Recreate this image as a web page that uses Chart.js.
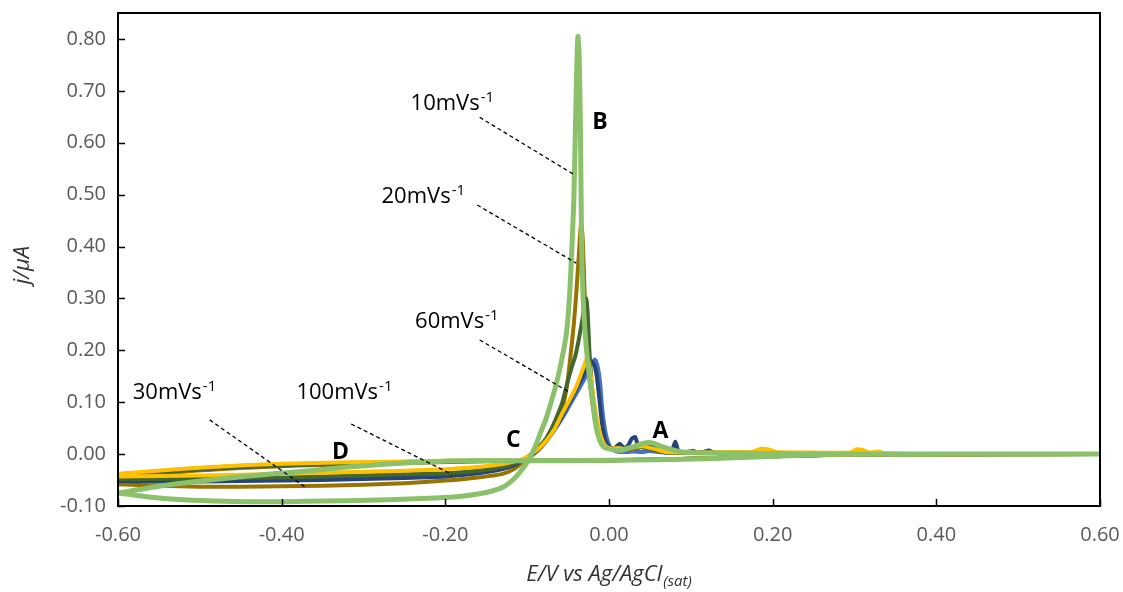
<!DOCTYPE html>
<html>
<head>
<meta charset="utf-8">
<title>Voltamperometria</title>
<script src="https://cdn.jsdelivr.net/npm/chart.js@4.4.0/dist/chart.umd.min.js"></script>
<style>
  html, body { margin: 0; padding: 0; background: #fff; }
</style>
</head>
<body>
<canvas id="myChart" width="1123" height="592"></canvas>
<script>
// ejes
const xTicks = [-0.6, -0.4, -0.2, 0, 0.2, 0.4, 0.6];
const yTicks = [-0.1, 0, 0.1, 0.2, 0.3, 0.4, 0.5, 0.6, 0.7, 0.8];

// curvas [E, j] : barrido directo -0.6 -> 0.6 y retorno
const cvGreen = [
  [-0.6,-0.075],[-0.56,-0.083],[-0.52,-0.088],[-0.47,-0.091],[-0.42,-0.092],[-0.37,-0.091],[-0.32,-0.09],
  [-0.27,-0.088],[-0.22,-0.085],[-0.18,-0.081],[-0.15,-0.074],[-0.13,-0.064],[-0.115,-0.046],[-0.105,-0.027],
  [-0.097,-0.008],[-0.09,0.015],[-0.084,0.04],[-0.077,0.068],[-0.07,0.104],[-0.064,0.138],[-0.058,0.18],
  [-0.052,0.233],[-0.048,0.31],[-0.045,0.41],[-0.043,0.49],[-0.041,0.63],[-0.0395,0.74],[-0.038,0.805],
  [-0.0365,0.77],[-0.035,0.64],[-0.034,0.48],[-0.033,0.36],[-0.031,0.28],[-0.028,0.21],[-0.024,0.15],
  [-0.02,0.104],[-0.017,0.065],[-0.014,0.04],[-0.01,0.022],[-0.006,0.013],[0.0,0.01],[0.008,0.008],
  [0.015,0.007],[0.022,0.011],[0.03,0.014],[0.038,0.019],[0.046,0.022],[0.054,0.021],[0.062,0.016],
  [0.07,0.012],[0.078,0.008],[0.086,0.005],[0.1,0.003],[0.13,0.002],[0.2,0.001],[0.3,0.0],[0.45,0.0],[0.6,0.0],
  [0.45,0.0],[0.3,0.0],[0.26,-0.001],[0.22,-0.003],[0.17,-0.006],[0.12,-0.009],[0.06,-0.011],[0.0,-0.012],
  [-0.06,-0.013],[-0.12,-0.013],[-0.18,-0.013],[-0.22,-0.015],[-0.27,-0.019],[-0.32,-0.025],[-0.38,-0.034],
  [-0.44,-0.042],[-0.5,-0.052],[-0.55,-0.062],[-0.6,-0.075]
];

const cvBrown = [
  [-0.6,-0.058],[-0.55,-0.061],[-0.5,-0.063],[-0.45,-0.063],[-0.4,-0.062],[-0.35,-0.061],[-0.3,-0.059],
  [-0.25,-0.056],[-0.2,-0.051],[-0.16,-0.045],[-0.13,-0.038],[-0.115,-0.028],[-0.105,-0.015],[-0.095,-0.004],
  [-0.085,0.01],[-0.076,0.028],[-0.069,0.045],[-0.062,0.07],[-0.056,0.095],[-0.051,0.135],[-0.047,0.19],
  [-0.043,0.25],[-0.04,0.31],[-0.037,0.38],[-0.035,0.43],[-0.034,0.445],[-0.032,0.41],[-0.03,0.32],
  [-0.027,0.22],[-0.024,0.15],[-0.02,0.095],[-0.016,0.055],[-0.012,0.03],[-0.007,0.016],[-0.002,0.012],
  [0.005,0.01],[0.012,0.008],[0.02,0.012],[0.03,0.01],[0.04,0.014],[0.05,0.012],[0.06,0.006],[0.07,0.004],
  [0.09,0.003],[0.12,0.003],[0.16,0.002],[0.22,0.002],[0.3,0.001],[0.45,0.0],[0.6,0.0],
  [0.45,0.0],[0.3,-0.001],[0.25,-0.002],[0.2,-0.004],[0.14,-0.007],[0.08,-0.01],[0.0,-0.012],[-0.08,-0.013],
  [-0.15,-0.014],[-0.22,-0.016],[-0.3,-0.019],[-0.38,-0.022],[-0.45,-0.027],[-0.52,-0.034],[-0.6,-0.046]
];

const cvDarkGreen = [
  [-0.6,-0.049],[-0.55,-0.048],[-0.5,-0.047],[-0.45,-0.046],[-0.4,-0.045],[-0.35,-0.043],[-0.3,-0.041],
  [-0.25,-0.039],[-0.2,-0.037],[-0.16,-0.032],[-0.13,-0.025],[-0.115,-0.018],[-0.105,-0.011],[-0.095,0.0],
  [-0.085,0.015],[-0.077,0.03],[-0.07,0.05],[-0.063,0.075],[-0.057,0.1],[-0.051,0.137],[-0.046,0.165],
  [-0.041,0.19],[-0.037,0.22],[-0.033,0.255],[-0.03,0.285],[-0.028,0.3],[-0.026,0.27],[-0.024,0.2],
  [-0.021,0.13],[-0.018,0.08],[-0.014,0.045],[-0.01,0.025],[-0.005,0.015],[0.0,0.012],[0.01,0.01],
  [0.02,0.012],[0.03,0.012],[0.04,0.013],[0.05,0.01],[0.06,0.006],[0.07,0.003],[0.09,0.002],[0.12,0.002],
  [0.2,0.001],[0.3,0.0],[0.6,0.0],
  [0.3,-0.001],[0.25,-0.002],[0.2,-0.004],[0.14,-0.007],[0.08,-0.01],[0.0,-0.012],[-0.08,-0.013],
  [-0.15,-0.013],[-0.22,-0.015],[-0.3,-0.018],[-0.38,-0.021],[-0.45,-0.025],[-0.52,-0.031],[-0.6,-0.044]
];

const cvGold = [
  [-0.6,-0.043],[-0.55,-0.042],[-0.5,-0.041],[-0.45,-0.04],[-0.4,-0.038],[-0.35,-0.036],[-0.3,-0.034],
  [-0.25,-0.032],[-0.2,-0.029],[-0.16,-0.025],[-0.13,-0.019],[-0.115,-0.014],[-0.105,-0.009],[-0.095,0.0],
  [-0.085,0.012],[-0.076,0.027],[-0.066,0.05],[-0.057,0.079],[-0.048,0.105],[-0.04,0.13],[-0.034,0.155],
  [-0.03,0.172],[-0.027,0.185],[-0.024,0.17],[-0.021,0.135],[-0.018,0.1],[-0.015,0.07],[-0.011,0.04],
  [-0.007,0.022],[-0.003,0.014],[0.002,0.011],[0.01,0.012],[0.02,0.01],[0.03,0.013],[0.04,0.015],
  [0.05,0.012],[0.06,0.008],[0.07,0.004],[0.09,0.003],[0.12,0.003],[0.15,0.004],[0.175,0.004],[0.185,0.01],
  [0.195,0.009],[0.205,0.004],[0.25,0.003],[0.295,0.003],[0.302,0.009],[0.31,0.008],[0.318,0.003],
  [0.33,0.005],[0.337,0.001],[0.45,0.0],[0.6,0.0],
  [0.3,-0.001],[0.2,-0.004],[0.1,-0.009],[0.0,-0.012],[-0.1,-0.013],[-0.2,-0.013],[-0.28,-0.015],
  [-0.36,-0.017],[-0.44,-0.021],[-0.52,-0.028],[-0.6,-0.038]
];

const cvBlue = [
  [-0.6,-0.046],[-0.5,-0.047],[-0.4,-0.047],[-0.3,-0.045],[-0.2,-0.041],[-0.16,-0.036],[-0.13,-0.028],
  [-0.115,-0.02],[-0.105,-0.012],[-0.095,-0.002],[-0.085,0.01],[-0.075,0.028],[-0.065,0.05],[-0.055,0.075],
  [-0.046,0.1],[-0.038,0.122],[-0.031,0.142],[-0.025,0.162],[-0.02,0.178],[-0.017,0.182],[-0.014,0.17],
  [-0.011,0.14],[-0.009,0.1],[-0.007,0.07],[-0.004,0.04],[0.0,0.018],[0.004,0.009],[0.01,0.005],
  [0.02,0.004],[0.03,0.005],[0.04,0.004],[0.05,0.006],[0.06,0.004],[0.08,0.002],[0.1,0.002],[0.2,0.001],
  [0.3,0.0],[0.6,0.0],
  [0.3,-0.001],[0.2,-0.004],[0.1,-0.009],[0.0,-0.012],[-0.1,-0.013],[-0.2,-0.014],[-0.28,-0.016],
  [-0.36,-0.018],[-0.44,-0.022],[-0.52,-0.029],[-0.6,-0.04]
];

const cvNavy = [
  [-0.6,-0.052],[-0.55,-0.053],[-0.5,-0.053],[-0.45,-0.052],[-0.4,-0.051],[-0.35,-0.05],[-0.3,-0.048],
  [-0.25,-0.046],[-0.2,-0.043],[-0.16,-0.037],[-0.13,-0.029],[-0.115,-0.021],[-0.105,-0.012],[-0.095,-0.002],
  [-0.085,0.012],[-0.075,0.03],[-0.065,0.052],[-0.056,0.078],[-0.047,0.104],[-0.039,0.128],[-0.032,0.15],
  [-0.026,0.168],[-0.021,0.178],[-0.018,0.172],[-0.015,0.15],[-0.012,0.11],[-0.009,0.065],[-0.006,0.035],
  [-0.002,0.018],[0.003,0.01],[0.008,0.013],[0.013,0.02],[0.018,0.012],[0.023,0.016],[0.028,0.03],
  [0.032,0.033],[0.036,0.015],[0.042,0.018],[0.048,0.02],[0.055,0.012],[0.062,0.006],[0.07,0.005],
  [0.077,0.007],[0.081,0.024],[0.085,0.006],[0.095,0.004],[0.103,0.006],[0.108,0.003],[0.115,0.004],
  [0.122,0.007],[0.128,0.003],[0.16,0.002],[0.22,0.001],[0.3,0.0],[0.6,0.0],
  [0.3,-0.001],[0.2,-0.004],[0.1,-0.009],[0.0,-0.012],[-0.1,-0.013],[-0.2,-0.014],[-0.28,-0.017],
  [-0.36,-0.019],[-0.44,-0.024],[-0.52,-0.031],[-0.6,-0.042]
];

// el primero queda encima
const seriesData = [cvGreen, cvGold, cvDarkGreen, cvNavy, cvBrown, cvBlue];
const seriesColors = ["#8BC16A", "#FFC000", "#43682B", "#264478", "#997300", "#4472C4"];

// textos
const rateLabels = ["10mVs", "20mVs", "60mVs", "30mVs", "100mVs"];
const rateLabelPos = [[-0.2425, 0.664], [-0.278, 0.484], [-0.237, 0.243], [-0.582, 0.106], [-0.382, 0.106]];
const leaderFrom = [[-0.158, 0.649], [-0.161, 0.48], [-0.158, 0.22], [-0.488, 0.066], [-0.315, 0.058]];
const leaderTo = [[-0.042, 0.538], [-0.04, 0.368], [-0.048, 0.119], [-0.37, -0.065], [-0.192, -0.039]];
const peakLetters = ["A", "B", "C", "D"];
const peakPos = [[0.063, 0.044], [-0.011, 0.64], [-0.117, 0.027], [-0.328, 0.004]];

const FONT = "'Open Sans', 'Noto Sans', sans-serif";

const extras = {
  id: "extras",
  afterDatasetsDraw: function (chart) {
    const ctx = chart.ctx;
    const xs = chart.scales.x;
    const ys = chart.scales.y;
    const a = chart.chartArea;
    ctx.save();

    // marco
    ctx.strokeStyle = "#000";
    ctx.lineWidth = 2;
    ctx.strokeRect(a.left, a.top, a.right - a.left, a.bottom - a.top);

    // marcas hacia dentro
    ctx.lineWidth = 1.5;
    ctx.beginPath();
    yTicks.forEach(function (v) {
      const py = Math.round(ys.getPixelForValue(v)) + 0.5;
      ctx.moveTo(a.left, py);
      ctx.lineTo(a.left + 7, py);
    });
    xTicks.forEach(function (v) {
      const px = Math.round(xs.getPixelForValue(v)) + 0.5;
      ctx.moveTo(px, a.bottom);
      ctx.lineTo(px, a.bottom - 7);
    });
    ctx.stroke();

    // lineas guia
    ctx.lineWidth = 1.3;
    ctx.setLineDash([4, 3]);
    ctx.beginPath();
    for (let i = 0; i < leaderFrom.length; i++) {
      ctx.moveTo(xs.getPixelForValue(leaderFrom[i][0]), ys.getPixelForValue(leaderFrom[i][1]));
      ctx.lineTo(xs.getPixelForValue(leaderTo[i][0]), ys.getPixelForValue(leaderTo[i][1]));
    }
    ctx.stroke();
    ctx.setLineDash([]);

    // etiquetas de velocidad
    ctx.fillStyle = "#000";
    ctx.textBaseline = "alphabetic";
    ctx.textAlign = "left";
    for (let i = 0; i < rateLabels.length; i++) {
      const px = xs.getPixelForValue(rateLabelPos[i][0]);
      const py = ys.getPixelForValue(rateLabelPos[i][1]);
      ctx.font = "22px " + FONT;
      ctx.fillText(rateLabels[i], px, py);
      const w = ctx.measureText(rateLabels[i]).width;
      ctx.font = "15px " + FONT;
      ctx.fillText("-1", px + w + 1, py - 8);
    }

    // letras de picos
    ctx.font = "bold 23px " + FONT;
    ctx.textAlign = "center";
    ctx.textBaseline = "middle";
    for (let i = 0; i < peakLetters.length; i++) {
      ctx.fillText(peakLetters[i], xs.getPixelForValue(peakPos[i][0]), ys.getPixelForValue(peakPos[i][1]));
    }

    // titulo eje y
    ctx.fillStyle = "#333";
    ctx.save();
    ctx.translate(23, 265);
    ctx.rotate(-Math.PI / 2);
    ctx.font = "italic 22px " + FONT;
    ctx.fillText("j/\u03BCA", 0, 0);
    ctx.restore();

    // titulo eje x con subindice
    const main = "E/V vs Ag/AgCl";
    const sub = "(sat)";
    ctx.font = "italic 22px " + FONT;
    const w1 = ctx.measureText(main).width;
    ctx.font = "italic 15px " + FONT;
    const w2 = ctx.measureText(sub).width;
    const x0 = 609 - (w1 + w2 + 1) / 2;
    ctx.textAlign = "left";
    ctx.textBaseline = "alphabetic";
    ctx.font = "italic 22px " + FONT;
    ctx.fillText(main, x0, 581);
    ctx.font = "italic 15px " + FONT;
    ctx.fillText(sub, x0 + w1 + 1, 586);

    ctx.restore();
  },
};

const datasets = seriesData.map(function (serie, i) {
  return {
    data: serie.map(function (p) { return { x: p[0], y: p[1] }; }),
    showLine: true,
    borderColor: seriesColors[i],
    backgroundColor: seriesColors[i],
    borderWidth: i === 0 ? 5 : 4,
    pointRadius: 0,
    tension: 0.2,
    fill: false,
  };
});

const tickFont = { family: FONT, size: 20 };

const ctx = document.getElementById("myChart").getContext("2d");
const myChart = new Chart(ctx, {
  type: "scatter",
  data: { datasets: datasets },
  options: {
    responsive: false,
    animation: false,
    devicePixelRatio: 1,
    layout: { padding: { top: 13, right: 23, left: 0, bottom: 0 } },
    plugins: { legend: { display: false }, tooltip: { enabled: false } },
    elements: { line: { capBezierPoints: true } },
    scales: {
      x: {
        type: "linear",
        min: -0.6,
        max: 0.6,
        afterBuildTicks: function (s) { s.ticks = xTicks.map(function (v) { return { value: v }; }); },
        afterFit: function (s) {
          s.height = 86;
          s.paddingLeft = 0;
          s.paddingRight = 0;
        },
        grid: { display: false, drawTicks: false },
        border: { display: false },
        ticks: {
          font: tickFont, color: "#595959", padding: 17, maxRotation: 0, autoSkip: false,
          callback: function (v) { return v.toFixed(2); },
        },
      },
      y: {
        type: "linear",
        min: -0.1,
        max: 0.85,
        afterBuildTicks: function (s) { s.ticks = yTicks.map(function (v) { return { value: v }; }); },
        afterFit: function (s) {
          s.width = 118;
          s.paddingTop = 0;
          s.paddingBottom = 0;
        },
        grid: { display: false, drawTicks: false },
        border: { display: false },
        ticks: {
          font: tickFont, color: "#595959", padding: 12, autoSkip: false,
          callback: function (v) { return v.toFixed(2); },
        },
      },
    },
  },
  plugins: [extras],
});
</script>
</body>
</html>
